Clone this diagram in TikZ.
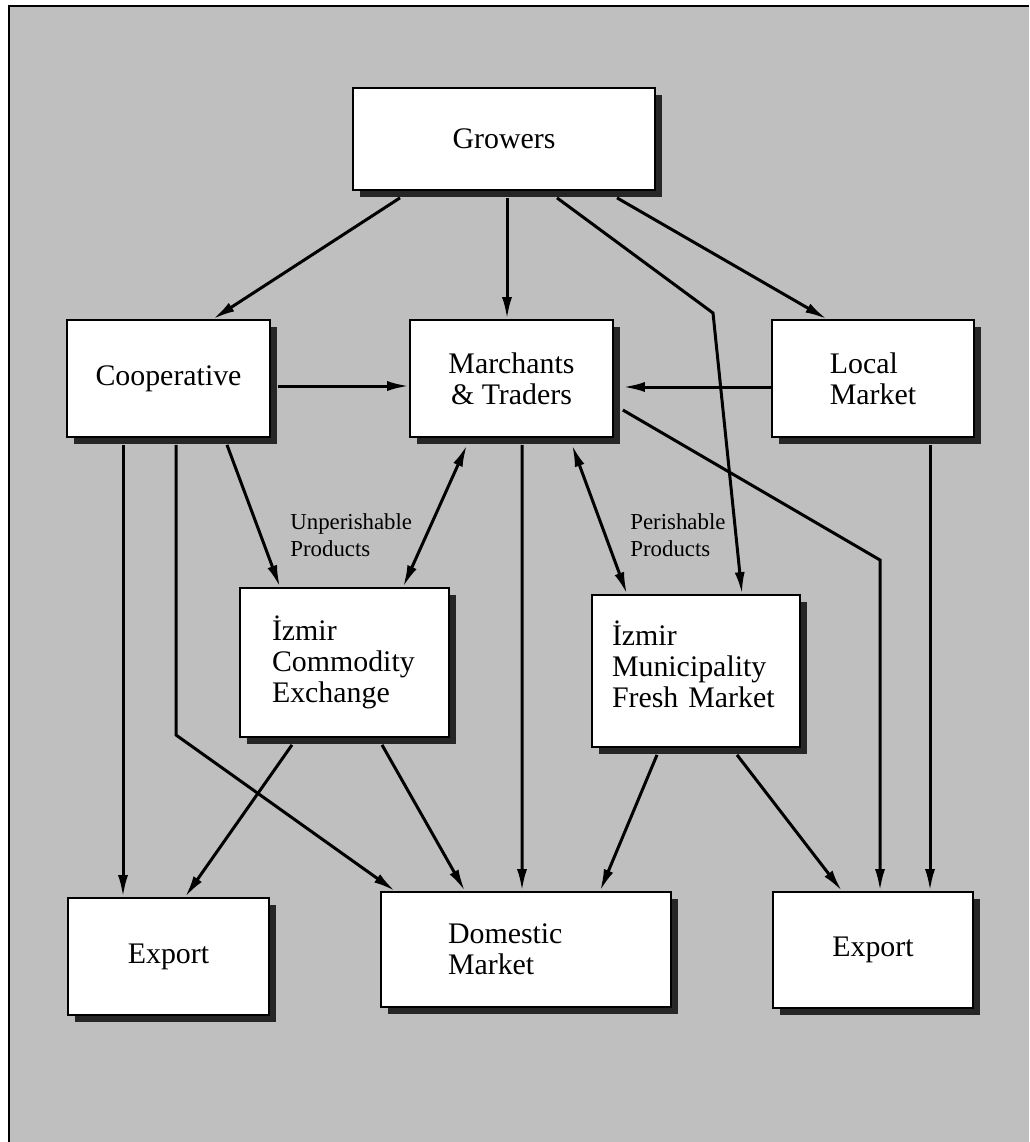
\documentclass[tikz,border=0pt]{standalone}
\usepackage{fontspec}
\setmainfont{Liberation Serif}
\usepackage{tikz}
\usetikzlibrary{calc, arrows.meta, shadows}
\tikzset{
	line width = .06cm,
	>={Latex[length=.44cm, width=.2cm]},
	font = \fontsize{17}{17.5}\selectfont,
	box/.style={
		draw,
		fill=white,
		line width=.035cm,
		inner sep=0pt,
		general shadow={fill=black!85, shadow xshift=.14cm, shadow yshift=-.14cm}
	},
	flow/.style={
		->,
		line width=.06cm
	},
	exchange/.style={
		<->,
		line width=.06cm
	},
	note/.style={
		font=\fontsize{13}{15.5}\selectfont,
		align=left,
		inner sep=0pt
	}
}

\begin{document}
\begin{tikzpicture}[x=0.02cm, y=-0.02cm]
	\useasboundingbox (0,0) rectangle (1029,1142);
	\fill[black!25] (9,6) rectangle (1029,1142);
	\draw[line width=.05cm] (9,1142) -- (9,6) -- (1029,6);

	\node[box, minimum width=6.04cm, minimum height=2.04cm] (growers) at (504,139) {Growers};
	\node[box, minimum width=4.06cm, minimum height=2.34cm] (coop) at (168.5,378.5) {Cooperative};
	\node[box, minimum width=4.06cm, minimum height=2.34cm, align=center] (traders) at (511.5,378.5) {Marchants\\\& Traders};
	\node[box, minimum width=4.04cm, minimum height=2.34cm, align=left] (local) at (873,378.5) {Local\\Market};
	\node[box, minimum width=4.18cm, minimum height=2.98cm, text width=2.9cm, align=left] (commodity) at (344.5,662.5) {İzmir\\Commodity\\Exchange};
	\node[box, minimum width=4.16cm, minimum height=3.04cm, text width=3.36cm, text depth=1.5cm, align=left] (fresh) at (696,671) {İzmir\\Municipality\\Fresh Market};
	\node[box, minimum width=4.02cm, minimum height=2.34cm] (exportL) at (168.5,956.5) {Export};
	\node[box, minimum width=5.8cm, minimum height=2.3cm, text width=3.12cm, align=left] (domestic) at (526,949.5) {Domestic\\Market};
	\node[box, minimum width=4.0cm, minimum height=2.32cm] (exportR) at (873,950) {Export};

	\node[note, anchor=west] (unperish) at (290,535) {Unperishable\\Products};
	\node[note, anchor=west] (perish) at (630,535) {Perishable\\Products};

	\draw[flow] ($(growers.south)+(-104,7)$) -- ($(coop.north)+(44.5,0)$);
	\draw[flow] ($(growers.south)+(3,7)$) -- ($(traders.north)+(-4.5,0)$);
	\draw[flow] ($(growers.south)+(53,7)$) -- (713,313) -- ($(fresh.north)+(46,0)$);
	\draw[flow] ($(growers.south)+(113,7)$) -- ($(local.north)+(-46,0)$);
	\draw[flow] ($(coop.east)+(7,7.5)$) -- ($(traders.west)+(0,7.5)$);
	\draw[flow] ($(local.west)+(0,8.5)$) -- ($(traders.east)+(9,8.5)$);
	\draw[flow] ($(traders.east)+(9,31.5)$) -- (880,560) -- ($(exportR.north)+(7,0)$);
	\draw[flow] ($(local.south)+(57,7)$) -- ($(exportR.north)+(57,0)$);
	\draw[flow] ($(coop.south)+(-45.5,7)$) -- ($(exportL.north)+(-45.5,0)$);
	\draw[flow] ($(coop.south)+(7.5,7)$) -- (176,735) -- ($(domestic.north west)+(15,0)$);
	\draw[flow] ($(coop.south)+(58.5,7)$) -- ($(commodity.north)+(-64.5,0)$);
	\draw[exchange] ($(traders.south)+(-44.5,7)$) -- ($(commodity.north)+(58.5,0)$);
	\draw[flow] ($(traders.south)+(10.5,7)$) -- ($(domestic.north)+(-4,0)$);
	\draw[exchange] ($(traders.south)+(60.5,7)$) -- ($(fresh.north)+(-69,0)$);
	\draw[flow] ($(commodity.south)+(-52.5,7)$) -- ($(exportL.north)+(16.5,0)$);
	\draw[flow] ($(commodity.south)+(37.5,7)$) -- ($(domestic.north)+(-61,0)$);
	\draw[flow] ($(fresh.south)+(-39,7)$) -- ($(domestic.north)+(74,0)$);
	\draw[flow] ($(fresh.south)+(41,7)$) -- ($(exportR.north)+(-31,0)$);
\end{tikzpicture}
\end{document}
